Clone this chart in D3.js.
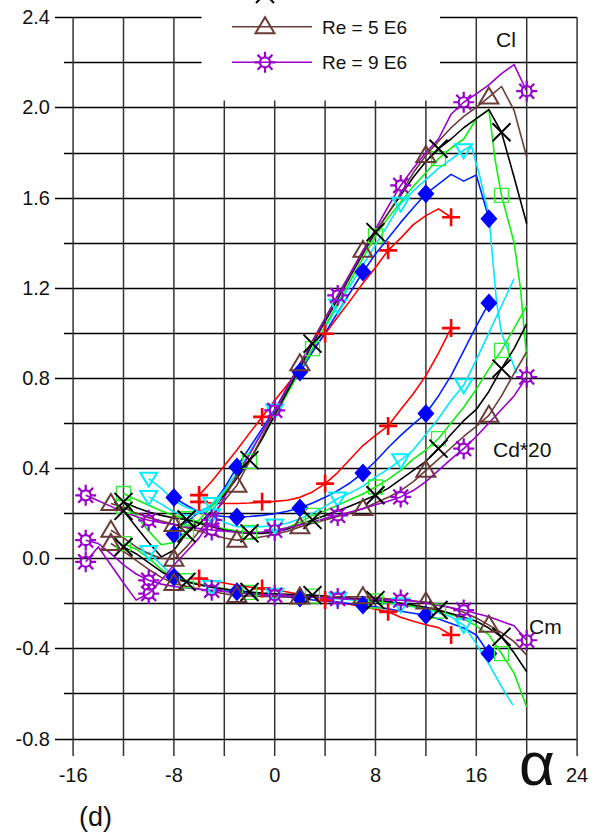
<!DOCTYPE html>
<html><head><meta charset="utf-8">
<script src="https://cdn.jsdelivr.net/npm/d3@7"></script>
<style>body{margin:0;background:#fff}svg{display:block}text{font-family:"Liberation Sans",Arial,sans-serif;fill:#111}</style>
</head><body><svg id="c" width="604" height="833"></svg>
<script>
// ---------- tick labels ----------
const xTickLabels = [-16, -8, 0, 8, 16];
const yTickLabels = [-0.8, -0.4, 0.0, 0.4, 0.8, 1.2, 1.6, 2.0, 2.4];
const legendLabels = ["Re = 5 E6", "Re = 9 E6"];

// ---------- marker angles per series ----------
const redMarks = [-6, -1, 4, 9, 14];
const blueMarks = [-8, -3, 2, 7, 12, 17];
const cyanMarks = [-10, -5, 0, 5, 10, 15];
const greenMarks = [-12, -7, -2, 3, 8, 13, 18];
const blackMarks = [-12, -7, -2, 3, 8, 13, 18];
const brownMarks = [-13, -8, -3, 2, 7, 12, 17];
const purpleMarks = [-15, -10, -5, 0, 5, 10, 15, 20];

// ---------- red (+) ----------
const redCl = [[-6,0.28],[-5,0.34],[-4,0.41],[-3,0.48],[-2,0.555],[-1,0.627],[0,0.70],[1,0.77],[2,0.84],[3,0.92],[4,0.996],[5,1.07],[6,1.144],[7,1.22],[8,1.29],[9,1.366],[10,1.42],[11,1.48],[12,1.52],[13,1.55],[14,1.513]];
const redCd = [[-6,0.25],[-5,0.245],[-4,0.243],[-3,0.243],[-2,0.245],[-1,0.25],[0,0.252],[1,0.257],[2,0.27],[3,0.294],[4,0.331],[5,0.38],[6,0.44],[7,0.50],[8,0.545],[9,0.587],[10,0.66],[11,0.73],[12,0.81],[13,0.91],[14,1.021]];
const redCm = [[-6,-0.09],[-5,-0.1],[-4,-0.11],[-3,-0.12],[-2,-0.128],[-1,-0.134],[0,-0.14],[1,-0.15],[2,-0.16],[3,-0.172],[4,-0.186],[5,-0.195],[6,-0.205],[7,-0.215],[8,-0.226],[9,-0.238],[10,-0.262],[11,-0.28],[12,-0.295],[13,-0.308],[14,-0.341]];

// ---------- blue (diamond) ----------
const blueCl = [[-8,0.106],[-7.4,0.14],[-6,0.205],[-5,0.235],[-4,0.31],[-3,0.405],[-2,0.49],[-1,0.575],[0,0.66],[1,0.745],[2,0.826],[3,0.915],[4,1.0],[5,1.09],[6,1.18],[7,1.27],[8,1.35],[9,1.42],[10,1.49],[11,1.555],[12,1.617],[13,1.66],[14,1.703],[15,1.673],[16,1.70],[17,1.506]];
const blueCd = [[-8,0.269],[-7,0.235],[-6,0.205],[-5,0.19],[-4,0.185],[-3,0.183],[-2,0.185],[-1,0.19],[0,0.197],[1,0.208],[2,0.223],[3,0.245],[4,0.27],[5,0.30],[6,0.335],[7,0.378],[8,0.43],[9,0.49],[10,0.545],[11,0.595],[12,0.642],[13,0.72],[14,0.81],[15,0.92],[16,1.03],[17,1.132]];
const blueCm = [[-8,-0.083],[-7,-0.1],[-6,-0.118],[-5,-0.13],[-4,-0.14],[-3,-0.149],[-2,-0.157],[-1,-0.163],[0,-0.168],[1,-0.172],[2,-0.177],[3,-0.185],[4,-0.19],[5,-0.196],[6,-0.202],[7,-0.208],[8,-0.216],[9,-0.225],[10,-0.235],[11,-0.244],[12,-0.253],[13,-0.27],[14,-0.29],[15,-0.31],[16,-0.341],[17,-0.423]];

// ---------- cyan (down triangle) ----------
const cyanCl = [[-10,0.272],[-9,0.24],[-8,0.205],[-7,0.19],[-6,0.2],[-5,0.24],[-4,0.3],[-3,0.38],[-2,0.47],[-1,0.56],[0,0.655],[1,0.745],[2,0.835],[3,0.93],[4,1.02],[5,1.12],[6,1.21],[7,1.30],[8,1.39],[9,1.48],[10,1.573],[11,1.63],[12,1.68],[13,1.73],[14,1.77],[15,1.81],[15.6,1.83],[16.3,1.69],[17,1.52],[17.6,1.14],[18,1.0],[19.2,0.82]];
const cyanCd = [[-10,0.353],[-9,0.31],[-8,0.255],[-7,0.225],[-6,0.205],[-5,0.19],[-4,0.16],[-3,0.14],[-2,0.14],[-1,0.14],[0,0.145],[1,0.155],[2,0.175],[3,0.2],[4,0.23],[5,0.265],[6,0.29],[7,0.32],[8,0.36],[9,0.395],[10,0.435],[11,0.48],[12,0.55],[13,0.62],[14,0.70],[15,0.767],[16,0.88],[17,1.0],[18,1.12],[19,1.24]];
const cyanCm = [[-10,0.028],[-9,-0.03],[-8,-0.08],[-7,-0.1],[-6,-0.115],[-5,-0.128],[-4,-0.138],[-3,-0.146],[-2,-0.152],[-1,-0.157],[0,-0.162],[2,-0.168],[4,-0.174],[5,-0.18],[7,-0.19],[10,-0.205],[12,-0.225],[14,-0.26],[15,-0.297],[16,-0.38],[17,-0.47],[18,-0.57],[18.9,-0.652]];

// ---------- green (square) ----------
const greenCl = [[-12,0.23],[-11,0.19],[-10,0.12],[-9,0.06],[-8,0.07],[-7,0.12],[-6,0.17],[-5,0.23],[-4,0.29],[-3,0.36],[-2,0.43],[-1,0.53],[0,0.63],[1,0.73],[2,0.83],[3,0.93],[4,1.03],[5,1.13],[6,1.23],[7,1.33],[8,1.43],[9,1.51],[10,1.58],[11,1.65],[12,1.71],[13,1.773],[14,1.82],[15,1.86],[16,1.95],[17,1.99],[17.5,1.765],[18,1.61],[19,1.40],[19.5,1.2],[20,0.89]];
const greenCd = [[-12,0.287],[-11,0.26],[-10,0.235],[-9,0.21],[-8,0.19],[-7,0.175],[-6,0.16],[-5,0.145],[-4,0.13],[-3,0.12],[-2,0.115],[-1,0.115],[0,0.12],[1,0.135],[2,0.16],[3,0.19],[4,0.21],[5,0.235],[6,0.26],[7,0.285],[8,0.316],[9,0.35],[10,0.39],[11,0.44],[12,0.48],[13,0.531],[14,0.6],[15,0.67],[16,0.75],[17,0.84],[18,0.922],[19,1.02],[20,1.12]];
const greenCm = [[-12,0.065],[-11,0.04],[-10,0.0],[-9,-0.05],[-8,-0.085],[-7,-0.1],[-6,-0.115],[-5,-0.127],[-4,-0.137],[-3,-0.145],[-2,-0.152],[-1,-0.157],[0,-0.16],[1,-0.163],[2,-0.166],[3,-0.168],[4,-0.172],[5,-0.176],[6,-0.18],[7,-0.186],[8,-0.19],[9,-0.196],[10,-0.205],[11,-0.214],[12,-0.224],[13,-0.235],[14,-0.25],[15,-0.27],[16,-0.3],[17,-0.34],[18,-0.423],[19,-0.51],[20,-0.66]];

// ---------- black (X) ----------
const blackCl = [[-12,0.21],[-11,0.14],[-10,0.07],[-9,0.006],[-8,0.035],[-7,0.11],[-6,0.15],[-5,0.21],[-4,0.28],[-3,0.355],[-2,0.435],[-1,0.53],[0,0.635],[1,0.74],[2,0.845],[3,0.952],[4,1.05],[5,1.15],[6,1.25],[7,1.35],[8,1.447],[9,1.53],[10,1.61],[11,1.69],[12,1.76],[13,1.817],[14,1.86],[15,1.91],[16,1.95],[17,1.99],[18,1.89],[19,1.69],[20,1.484]];
const blackCd = [[-12,0.25],[-11,0.225],[-10,0.205],[-9,0.19],[-8,0.178],[-7,0.172],[-6,0.155],[-5,0.14],[-4,0.125],[-3,0.115],[-2,0.11],[-1,0.11],[0,0.115],[1,0.13],[2,0.15],[3,0.17],[4,0.19],[5,0.21],[6,0.232],[7,0.255],[8,0.279],[9,0.31],[10,0.35],[11,0.39],[12,0.43],[13,0.486],[14,0.55],[15,0.61],[16,0.66],[17,0.74],[18,0.841],[19,0.93],[20,1.04]];
const blackCm = [[-12,0.05],[-11,0.02],[-10,-0.02],[-9,-0.06],[-8,-0.09],[-7,-0.105],[-6,-0.118],[-5,-0.128],[-4,-0.137],[-3,-0.145],[-2,-0.15],[-1,-0.155],[0,-0.158],[1,-0.16],[2,-0.162],[3,-0.164],[4,-0.168],[5,-0.172],[6,-0.177],[7,-0.181],[8,-0.186],[9,-0.192],[10,-0.2],[11,-0.208],[12,-0.218],[13,-0.23],[14,-0.245],[15,-0.262],[16,-0.28],[17,-0.31],[18,-0.349],[19,-0.42],[20,-0.504]];

// ---------- brown (triangle) ----------
const brownCl = [[-13,0.124],[-12,0.09],[-11,0.05],[-10,0.02],[-9,0.0],[-8,-0.005],[-7,0.05],[-6,0.12],[-5,0.19],[-4,0.255],[-3,0.324],[-2,0.43],[-1,0.54],[0,0.65],[1,0.757],[2,0.863],[3,0.965],[4,1.065],[5,1.165],[6,1.265],[7,1.366],[8,1.45],[9,1.53],[10,1.62],[11,1.71],[12,1.787],[13,1.85],[14,1.91],[15,1.96],[16,2.0],[17,2.046],[18,2.093],[19,1.987],[20,1.78]];
const brownCd = [[-13,0.243],[-12,0.225],[-11,0.2],[-10,0.18],[-9,0.165],[-8,0.15],[-7,0.135],[-6,0.12],[-5,0.105],[-4,0.09],[-3,0.08],[-2,0.085],[-1,0.095],[0,0.105],[1,0.12],[2,0.139],[3,0.155],[4,0.17],[5,0.185],[6,0.2],[7,0.22],[8,0.245],[9,0.27],[10,0.3],[11,0.34],[12,0.39],[13,0.44],[14,0.49],[15,0.54],[16,0.585],[17,0.634],[18,0.72],[19,0.82],[20,0.915]];
const brownCm = [[-13,0.065],[-12,0.03],[-11,-0.01],[-10,-0.05],[-9,-0.085],[-8,-0.112],[-7,-0.125],[-6,-0.137],[-5,-0.148],[-4,-0.158],[-3,-0.166],[-2,-0.168],[-1,-0.17],[0,-0.171],[1,-0.172],[2,-0.172],[3,-0.172],[4,-0.171],[5,-0.171],[6,-0.171],[7,-0.171],[8,-0.175],[9,-0.18],[10,-0.185],[11,-0.19],[12,-0.194],[13,-0.205],[14,-0.22],[15,-0.24],[16,-0.265],[17,-0.297],[18,-0.33],[19,-0.37],[20,-0.43]];

// ---------- purple (star) ----------
const purpleCl = [[-15,-0.016],[-14,0.05],[-13,-0.03],[-12,-0.11],[-11,-0.186],[-10,-0.157],[-9,-0.098],[-8,-0.03],[-7,0.03],[-6,0.09],[-5,0.17],[-4,0.27],[-3,0.37],[-2,0.46],[-1,0.56],[0,0.656],[1,0.76],[2,0.86],[3,0.96],[4,1.06],[5,1.166],[6,1.26],[7,1.36],[8,1.46],[9,1.56],[10,1.654],[11,1.73],[12,1.8],[13,1.86],[14,1.97],[15,2.023],[16,2.06],[17,2.1],[18,2.15],[19,2.19],[20,2.072]];
const purpleCd = [[-15,0.279],[-14,0.255],[-13,0.23],[-12,0.205],[-11,0.185],[-10,0.168],[-9,0.158],[-8,0.15],[-7,0.14],[-6,0.132],[-5,0.125],[-4,0.12],[-3,0.115],[-2,0.112],[-1,0.115],[0,0.124],[1,0.135],[2,0.148],[3,0.162],[4,0.176],[5,0.19],[6,0.205],[7,0.22],[8,0.237],[9,0.253],[10,0.272],[11,0.3],[12,0.34],[13,0.39],[14,0.44],[15,0.486],[16,0.54],[17,0.6],[18,0.66],[19,0.72],[20,0.804]];
const purpleCm = [[-15,0.08],[-14,0.065],[-13,0.02],[-12,-0.03],[-11,-0.07],[-10,-0.098],[-9,-0.115],[-8,-0.125],[-7,-0.132],[-6,-0.138],[-5,-0.142],[-4,-0.148],[-3,-0.153],[-2,-0.157],[-1,-0.161],[0,-0.164],[1,-0.167],[2,-0.17],[3,-0.173],[4,-0.176],[5,-0.179],[6,-0.181],[7,-0.183],[8,-0.184],[9,-0.185],[10,-0.186],[11,-0.19],[12,-0.2],[13,-0.21],[14,-0.22],[15,-0.23],[16,-0.245],[17,-0.26],[18,-0.28],[19,-0.3],[20,-0.364]];

// ---------- build series table ----------
const series = [
  {line:"#ff0000", mk:"#ff0000", shape:"plus",    marks:redMarks,    curves:[redCl, redCd, redCm]},
  {line:"#0022ff", mk:"#0000ff", shape:"diamond", marks:blueMarks,   curves:[blueCl, blueCd, blueCm]},
  {line:"#00e8ff", mk:"#00eeff", shape:"tridown", marks:cyanMarks,   curves:[cyanCl, cyanCd, cyanCm]},
  {line:"#11ee11", mk:"#33ee33", shape:"square",  marks:greenMarks,  curves:[greenCl, greenCd, greenCm]},
  {line:"#000000", mk:"#000000", shape:"cross",   marks:blackMarks,  curves:[blackCl, blackCd, blackCm]},
  {line:"#6b3b37", mk:"#6b3b37", shape:"triup",   marks:brownMarks,  curves:[brownCl, brownCd, brownCm]},
  {line:"#9900cc", mk:"#9900cc", shape:"star",    marks:purpleMarks, curves:[purpleCl, purpleCd, purpleCm]}
];

const svg = d3.select("#c");
const x = d3.scaleLinear().domain([-16, 24]).range([73.1, 577.1]);
const y = d3.scaleLinear().domain([-0.8, 2.4]).range([738.5, 17.3]);

// ---------- grid ----------
const g = svg.append("g");
const hVals = d3.range(-0.8, 2.4001, 0.2).map(v => +v.toFixed(1));
g.selectAll("line.h").data(hVals).join("line")
  .attr("x1", d => yTickLabels.some(t => Math.abs(t - d) < 1e-6) ? 55 : 64)
  .attr("x2", x(24))
  .attr("y1", d => Math.round(y(d)) + 0.5).attr("y2", d => Math.round(y(d)) + 0.5)
  .attr("stroke", "#000").attr("stroke-width", 1.3);
const vVals = d3.range(-16, 24.001, 4);
g.selectAll("line.v").data(vVals).join("line")
  .attr("x1", d => x(d)).attr("x2", d => x(d))
  .attr("y1", y(2.4)).attr("y2", 756)
  .attr("stroke", "#333").attr("stroke-width", 1.5);

// legend white box
svg.append("rect").attr("x", 201.5).attr("y", 0).attr("width", 238.5).attr("height", 100.5).attr("fill", "#fff");

// ---------- axis labels ----------
svg.selectAll("text.yt").data(yTickLabels).join("text")
  .attr("x", 50).attr("y", d => y(d) + 7).attr("text-anchor", "end")
  .attr("font-size", 20).text(d => d.toFixed(1));
svg.selectAll("text.xt").data(xTickLabels).join("text")
  .attr("x", d => x(d)).attr("y", 782).attr("text-anchor", "middle")
  .attr("font-size", 20).text(d => d);
svg.append("text").attr("x", x(24)).attr("y", 782).attr("text-anchor", "middle").attr("font-size", 20).text("24");
svg.append("text").attr("x", 519).attr("y", 785).attr("font-size", 62).text("α");
svg.append("text").attr("x", 79).attr("y", 826).attr("font-size", 27).text("(d)");

svg.append("text").attr("x", 496).attr("y", 47).attr("font-size", 21).text("Cl");
svg.append("text").attr("x", 493).attr("y", 457).attr("font-size", 21).text("Cd*20");
svg.append("text").attr("x", 529).attr("y", 634).attr("font-size", 21).text("Cm");

// ---------- markers ----------
function drawMarker(sel, shape, color) {
  if (shape === "plus") {
    sel.append("path").attr("d", "M-9,0H9M0,-9V9").attr("stroke", color).attr("stroke-width", 2.6).attr("fill", "none");
  } else if (shape === "cross") {
    sel.append("path").attr("d", "M-9,-9L9,9M-9,9L9,-9").attr("stroke", color).attr("stroke-width", 2).attr("fill", "none");
  } else if (shape === "diamond") {
    sel.append("path").attr("d", "M0,-9.5L8.5,0L0,9.5L-8.5,0Z").attr("fill", color);
  } else if (shape === "tridown") {
    sel.append("path").attr("d", "M-8.5,-6H8.5L0,8Z").attr("stroke", color).attr("stroke-width", 2).attr("fill", "none");
  } else if (shape === "square") {
    sel.append("path").attr("d", "M-7,-7H7V7H-7Z").attr("stroke", color).attr("stroke-width", 1.3).attr("fill", "none");
  } else if (shape === "triup") {
    sel.append("path").attr("d", "M0,-9.5L9.5,6.5H-9.5Z").attr("stroke", color).attr("stroke-width", 2).attr("fill", "none");
  } else if (shape === "star") {
    sel.append("circle").attr("r", 5).attr("stroke", color).attr("stroke-width", 2.2).attr("fill", "none");
    let d = "";
    for (let k = 0; k < 8; k++) {
      const a = k * Math.PI / 4;
      d += `M${(5 * Math.cos(a)).toFixed(2)},${(5 * Math.sin(a)).toFixed(2)}L${(10.5 * Math.cos(a)).toFixed(2)},${(10.5 * Math.sin(a)).toFixed(2)}`;
    }
    sel.append("path").attr("d", d).attr("stroke", color).attr("stroke-width", 2.2).attr("fill", "none");
  }
}

const line = d3.line().x(d => x(d[0])).y(d => y(d[1]));
const lineLayer = svg.append("g");
const markLayer = svg.append("g");
series.forEach(s => {
  s.curves.forEach(c => {
    lineLayer.append("path").datum(c).attr("d", line)
      .attr("fill", "none").attr("stroke", s.line).attr("stroke-width", 1.6).attr("stroke-linejoin", "round");
    const pts = c.filter(p => s.marks.some(a => Math.abs(a - p[0]) < 1e-6));
    pts.forEach(p => {
      const m = markLayer.append("g").attr("transform", `translate(${x(p[0])},${y(p[1])})`);
      drawMarker(m, s.shape, s.mk);
    });
  });
});

// ---------- legend ----------
const leg = svg.append("g");
const legItems = [
  {y: -6, color: "#000", shape: "cross", label: null},
  {y: 26.7, color: "#6b3b37", shape: "triup", label: legendLabels[0]},
  {y: 62.3, color: "#9900cc", shape: "star", label: legendLabels[1]}
];
legItems.forEach(it => {
  leg.append("line").attr("x1", 232).attr("x2", 312).attr("y1", it.y).attr("y2", it.y)
    .attr("stroke", it.color).attr("stroke-width", 1.6);
  const m = leg.append("g").attr("transform", `translate(265,${it.y})`);
  drawMarker(m, it.shape, it.color);
  if (it.label) leg.append("text").attr("x", 322).attr("y", it.y + 7).attr("font-size", 19).text(it.label);
});
</script></body></html>
